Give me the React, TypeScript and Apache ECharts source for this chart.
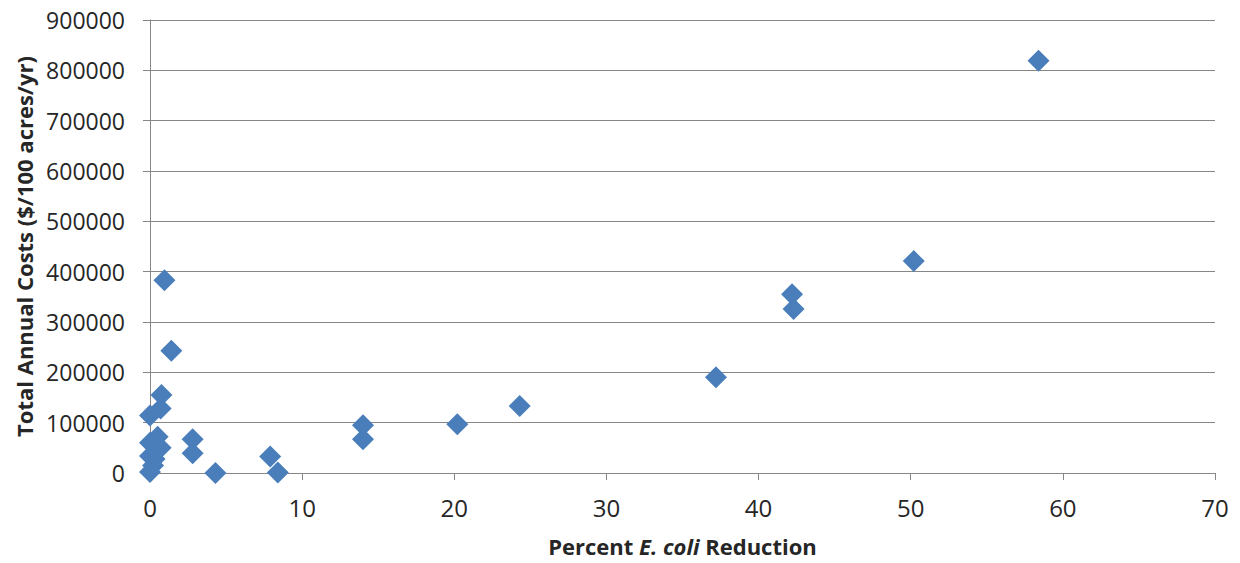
import React, { useEffect, useRef } from "react";
import * as echarts from "echarts";

const pctReduction = [58.4, 50.2, 42.2, 42.3, 37.2, 24.3, 20.2, 14.0, 14.0, 7.9, 8.4, 4.3, 2.8, 2.8, 0.95, 1.4, 0.75, 0.7, 0.0, 0.0, 0.5, 0.7, 0.0, 0.3, 0.2, 0.0, 0.4];
const annualCosts = [819000, 421000, 355000, 326000, 190000, 133000, 97000, 95000, 67000, 33000, 1000, 0, 67000, 39000, 383000, 243000, 155000, 128000, 114000, 60000, 72000, 50000, 34000, 28000, 15000, 2000, 58000];

export default function App() {
  const ref = useRef<HTMLDivElement>(null);
  useEffect(() => {
    if (!ref.current) return;
    const chart = echarts.init(ref.current, undefined, { renderer: "svg" });
    const font = "'Open Sans', sans-serif";
    chart.setOption({
      animation: false,
      backgroundColor: "#ffffff",
      grid: { left: 150, right: 25, top: 20, bottom: 90, containLabel: false },
      xAxis: {
        type: "value",
        min: 0,
        max: 70,
        interval: 10,
        name: "{b|Percent }{i|E. coli}{b| Reduction}",
        nameLocation: "middle",
        nameGap: 62,
        nameTextStyle: {
          rich: {
            b: { fontFamily: font, fontWeight: "bold", fontSize: 22, color: "#262626" },
            i: { fontFamily: font, fontWeight: "bold", fontStyle: "italic", fontSize: 22, color: "#262626" },
          },
        },
        axisLine: { show: true, onZero: false, lineStyle: { color: "#868686", width: 1 } },
        axisTick: { show: true, inside: false, length: 7, lineStyle: { color: "#868686" } },
        axisLabel: { fontFamily: font, fontSize: 24, color: "#262626", margin: 22 },
        splitLine: { show: false },
      },
      yAxis: {
        type: "value",
        min: 0,
        max: 900000,
        interval: 100000,
        name: "Total Annual Costs ($/100 acres/yr)",
        nameLocation: "middle",
        nameGap: 112,
        nameTextStyle: { fontFamily: font, fontWeight: "bold", fontSize: 22, color: "#262626" },
        axisLine: { show: true, lineStyle: { color: "#868686", width: 1 } },
        axisTick: { show: true, length: 7, lineStyle: { color: "#868686" } },
        axisLabel: {
          fontFamily: font,
          fontSize: 23,
          color: "#262626",
          margin: 25,
          formatter: (v: number) => String(v),
        },
        splitLine: { show: true, lineStyle: { color: "#868686", width: 1 } },
      },
      series: [
        {
          type: "scatter",
          symbol: "diamond",
          symbolSize: 22,
          itemStyle: { color: "#4A7EBB", opacity: 1 },
          data: pctReduction.map((x, i) => [x, annualCosts[i]]),
        },
      ],
    });
    return () => chart.dispose();
  }, []);
  return (
    <div
      ref={ref}
      style={{ position: "absolute", left: 0, top: 0, width: 1240, height: 563 }}
    />
  );
}
